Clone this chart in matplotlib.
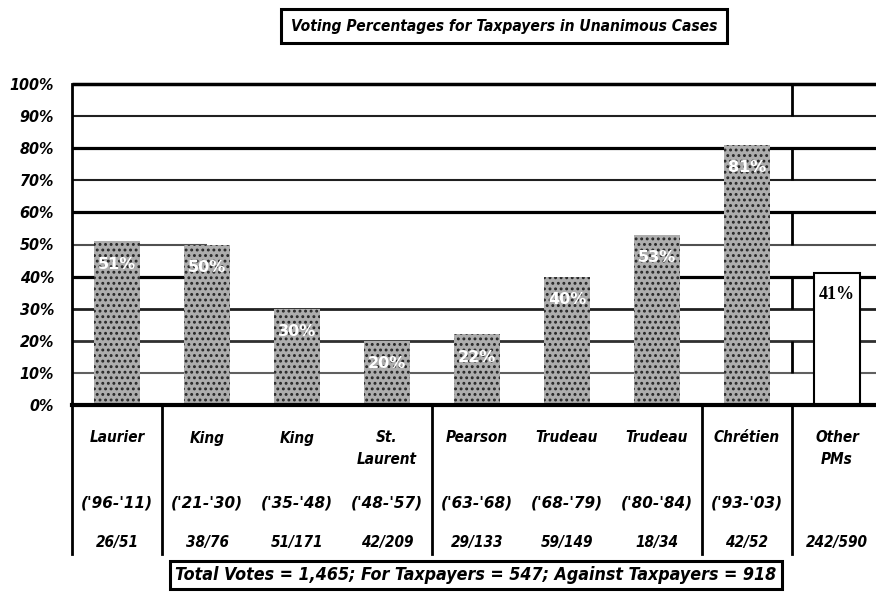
import matplotlib
matplotlib.use("Agg")
import matplotlib.pyplot as plt

# ---- data ----
names = ["Laurier", "King", "King", "St.\nLaurent", "Pearson", "Trudeau", "Trudeau", "Chrétien", "Other\nPMs"]
periods = ["('96-'11)", "('21-'30)", "('35-'48)", "('48-'57)", "('63-'68)", "('68-'79)", "('80-'84)", "('93-'03)", ""]
counts = ["26/51", "38/76", "51/171", "42/209", "29/133", "59/149", "18/34", "42/52", "242/590"]
values = [51, 50, 30, 20, 22, 40, 53, 81, 41]
bar_labels = ["51%", "50%", "30%", "20%", "22%", "40%", "53%", "81%", "41%"]
yticks = [0, 10, 20, 30, 40, 50, 60, 70, 80, 90, 100]
ytick_labels = ["0%", "10%", "20%", "30%", "40%", "50%", "60%", "70%", "80%", "90%", "100%"]
title = "Voting Percentages for Taxpayers in Unanimous Cases"
footer = "Total Votes = 1,465; For Taxpayers = 547; Against Taxpayers = 918"

W, H = 876, 592
fig = plt.figure(figsize=(W / 100, H / 100), dpi=100)

def fx(px):
    return px / W

def fy(py):
    return (H - py) / H

ax_left, ax_right_px, ax_top, ax_bot = 72, 882, 84, 405
ax = fig.add_axes([fx(ax_left), fy(ax_bot), fx(ax_right_px - ax_left), fy(ax_top) - fy(ax_bot)])

def ay(py):
    return (fy(py) - fy(ax_bot)) / (fy(ax_top) - fy(ax_bot))

fam = ["DejaVu Sans"]
heavy = dict(family=fam, weight="heavy", style="italic", stretch="condensed")

n = len(values)
x = list(range(n))
ax.set_xlim(-0.5, n - 0.5)
ax.set_ylim(0, 100)

grid_spec = [
    (90, 1.5, "#202020", [(-0.5, 8.5)]),
    (80, 2.3, "#000000", [(-0.5, 8.5)]),
    (70, 1.5, "#202020", [(-0.5, 8.5)]),
    (60, 2.3, "#000000", [(-0.5, 8.5)]),
    (50, 1.5, "#505050", [(-0.5, 1), (6, 8.5)]),
    (40, 2.3, "#000000", [(-0.5, 1), (6, 8.5)]),
    (30, 2.0, "#202020", [(-0.5, 8.5)]),
    (20, 2.0, "#303030", [(-0.5, 8.5)]),
    (10, 1.5, "#606060", [(-0.5, 8.5)]),
]
for lvl, lw, col, ranges in grid_spec:
    for a, b in ranges:
        ax.hlines(lvl, a, b, colors=col, linewidth=lw, zorder=1)
ax.hlines(100, -0.5, 8.5, colors="black", linewidth=2.5, zorder=1, clip_on=False)

for lo in [90, 70, 50, 30, 10]:
    ax.vlines(7.5, lo, lo + 10, colors="black", linewidth=2.0, zorder=1)

bw = 0.51
gray_idx = list(range(n - 1))
ax.bar([x[i] for i in gray_idx], [values[i] for i in gray_idx], width=bw,
       color="#adadad", edgecolor="none", linewidth=0, zorder=3)
matplotlib.rcParams["hatch.linewidth"] = 1.3
ax.bar([x[i] for i in gray_idx], [values[i] for i in gray_idx], width=bw,
       facecolor="none", edgecolor="#262626", hatch="...", linewidth=0, zorder=4)
ax.bar([x[-1]], [values[-1]], width=bw, color="white", edgecolor="black", linewidth=1.5, zorder=3)

for i in gray_idx:
    ax.annotate(bar_labels[i], (x[i], values[i]), xytext=(0, -23), textcoords="offset pixels",
                ha="center", va="center", color="white", fontsize=11.5, fontweight="bold",
                family="DejaVu Sans", zorder=6)
ax.annotate(bar_labels[-1], (x[-1], values[-1]), xytext=(0, -21), textcoords="offset pixels",
            ha="center", va="center", color="black", fontsize=13, fontweight="bold",
            family="Liberation Serif", zorder=6)

for s in ["top", "right"]:
    ax.spines[s].set_visible(False)
ax.spines["left"].set_linewidth(2.0)
ax.spines["bottom"].set_linewidth(3.0)
ax.spines["left"].set_zorder(5)
ax.spines["bottom"].set_zorder(5)
ax.set_xticks([])
ax.set_yticks(yticks)
ax.set_yticklabels(ytick_labels)
ax.tick_params(axis="y", length=0, pad=13)
for lab in ax.get_yticklabels():
    lab.set_fontfamily(fam)
    lab.set_fontweight("heavy")
    lab.set_fontstyle("italic")
    lab.set_fontstretch("condensed")
    lab.set_fontsize(11.5)

trans = ax.get_xaxis_transform()
for xv in [-0.5, 0.5, 3.5, 6.5, 7.5]:
    ax.plot([xv, xv], [0, ay(554)], color="black", linewidth=2.0, transform=trans, clip_on=False, zorder=5)

for i in range(n):
    parts = names[i].split("\n")
    ax.text(x[i], ay(438), parts[0], transform=trans, ha="center", va="center", fontsize=11, **heavy)
    if len(parts) > 1:
        ax.text(x[i], ay(459), parts[1], transform=trans, ha="center", va="center", fontsize=11, **heavy)
    ax.text(x[i], ay(503), periods[i], transform=trans, ha="center", va="center", fontsize=11,
            family=fam, weight="heavy", style="italic")
    ax.text(x[i], ay(543), counts[i], transform=trans, ha="center", va="center", fontsize=11, **heavy)

fig.text(fx(504), fy(26), title, ha="center", va="center", fontsize=11.2, **heavy,
         bbox=dict(boxstyle="square,pad=0.6", facecolor="white", edgecolor="black", linewidth=2.2))
fig.text(fx(476), fy(575), footer, ha="center", va="center", fontsize=12.8, **heavy,
         bbox=dict(boxstyle="square,pad=0.3", facecolor="white", edgecolor="black", linewidth=2.2))

fig.savefig("out.png", dpi=100)
